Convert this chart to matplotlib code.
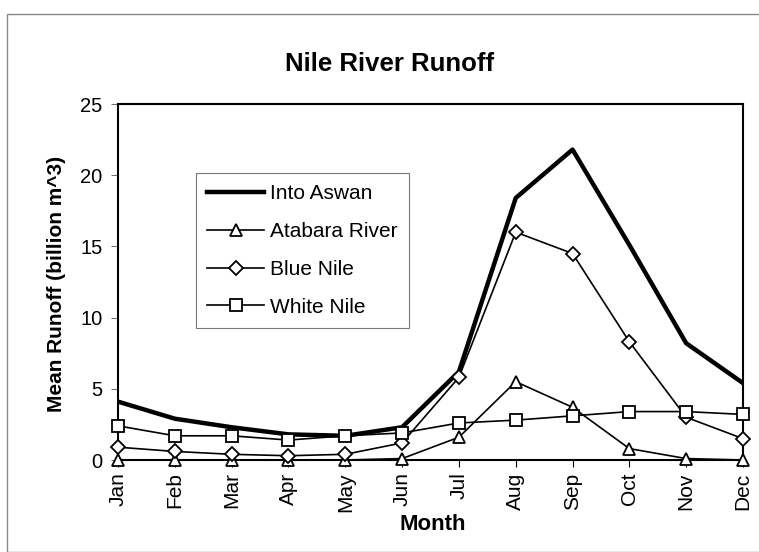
import matplotlib
matplotlib.use("Agg")
import matplotlib.pyplot as plt
from matplotlib.patches import Rectangle

plt.rcParams['font.family'] = ['Liberation Sans', 'DejaVu Sans']

months = ["Jan", "Feb", "Mar", "Apr", "May", "Jun", "Jul", "Aug", "Sep", "Oct", "Nov", "Dec"]
into_aswan = [4.1, 2.9, 2.3, 1.8, 1.7, 2.3, 6.2, 18.4, 21.8, 15.1, 8.2, 5.4]
atbara = [0.0, 0.0, 0.0, 0.0, 0.0, 0.1, 1.6, 5.5, 3.7, 0.8, 0.1, 0.0]
blue_nile = [0.9, 0.6, 0.4, 0.3, 0.4, 1.2, 5.8, 16.0, 14.5, 8.3, 3.0, 1.5]
white_nile = [2.4, 1.7, 1.7, 1.4, 1.7, 1.9, 2.6, 2.8, 3.1, 3.4, 3.4, 3.2]
yticks = [0, 5, 10, 15, 20, 25]

W, H = 759, 552
fig = plt.figure(figsize=(W / 100, H / 100), dpi=100)
fig.patches.append(Rectangle((7 / W, 0), 1, 1 - 14 / H, transform=fig.transFigure,
                             fill=False, edgecolor='#888888', linewidth=1.0))
ax = fig.add_axes([118 / W, 1 - 460 / H, (743 - 118) / W, (460 - 104) / H])

x = list(range(len(months)))
ax.plot(x, into_aswan, color='black', linewidth=3.2, label='Into Aswan', zorder=3)
mk = dict(color='black', linewidth=1.2, markerfacecolor='white', markeredgecolor='black',
          markeredgewidth=1.3, markersize=8, clip_on=False, zorder=4)
ax.plot(x, atbara, marker='^', label='Atabara River', **mk)
ax.plot(x, blue_nile, marker='D', label='Blue Nile', **{**mk, 'markersize': 7})
ax.plot(x, white_nile, marker='s', label='White Nile', **mk)

ax.set_xlim(0, len(months) - 1)
ax.set_ylim(0, 25)
ax.set_yticks(yticks)
ax.set_xticks(x)
ax.set_xticklabels(months, rotation=90, fontsize=15)
ax.tick_params(axis='y', labelsize=14.5, length=5, width=0.6, color='#555555', pad=6)
ax.tick_params(axis='x', length=5, width=0.8, pad=4)
for s in ax.spines.values():
    s.set_linewidth(1.5)
    s.set_color('black')

fig.text(390 / W, 1 - 71 / H, 'Nile River Runoff', fontsize=18.5, fontweight='bold',
         ha='center', va='baseline')
fig.text(56 / W, 1 - 284 / H, 'Mean Runoff (billion m^3)', fontsize=15, fontweight='bold',
         ha='center', va='center', rotation=90)
fig.text(433 / W, 1 - 530 / H, 'Month', fontsize=16, fontweight='bold',
         ha='center', va='baseline')

leg = ax.legend(loc='upper left', bbox_to_anchor=((196 - 118) / 625, (460 - 173) / 356),
                fontsize=15, frameon=True, fancybox=False, handlelength=2.7,
                borderpad=0.55, labelspacing=0.9, handletextpad=0.3, borderaxespad=0)
leg.get_frame().set_edgecolor('#555555')
leg.get_frame().set_linewidth(0.8)

fig.savefig('out.png', dpi=100)
